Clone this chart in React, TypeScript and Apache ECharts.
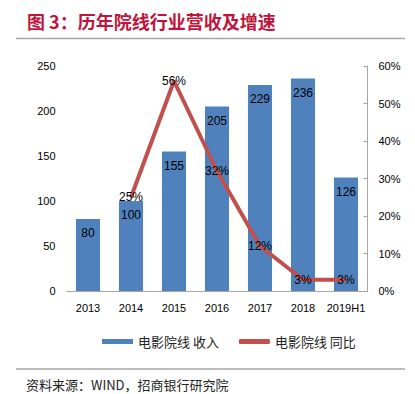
import React, { useEffect, useRef } from "react";
import * as echarts from "echarts";

const categories = ["2013", "2014", "2015", "2016", "2017", "2018", "2019H1"];
const revenue = [80, 100, 155, 205, 229, 236, 126];
const growth: (number | string)[] = ["-", 0.25, 0.56, 0.32, 0.12, 0.03, 0.03];
const growthLabels = ["", "25%", "56%", "32%", "12%", "3%", "3%"];
const leftTicks = { min: 0, max: 250, interval: 50 };
const rightTicks = { min: 0, max: 0.6, interval: 0.1 };
const seriesNames = ["电影院线 收入", "电影院线 同比"];
const titleText = "图 3：历年院线行业营收及增速";
const sourceText = "资料来源：WIND，招商银行研究院";

const latin = "'Liberation Sans', Arial, sans-serif";
const cjk = "'Noto Sans CJK SC', sans-serif";

export default function App() {
  const ref = useRef<HTMLDivElement>(null);
  useEffect(() => {
    if (!ref.current) return;
    const chart = echarts.init(ref.current, null, { renderer: "svg" });
    chart.setOption({
      animation: false,
      backgroundColor: "#ffffff",
      grid: { left: 66.5, right: 47.5, top: 66, bottom: 103, containLabel: false },
      legend: {
        left: 97,
        top: 330,
        itemWidth: 31,
        itemHeight: 5,
        itemGap: 20,
        textStyle: { fontFamily: cjk, fontSize: 13, color: "#222" },
        data: [
          { name: seriesNames[0], icon: "rect" },
          { name: seriesNames[1], icon: "roundRect" },
        ],
      },
      xAxis: {
        type: "category",
        data: categories,
        axisLine: { show: true, lineStyle: { color: "#a6a6a6", width: 1 } },
        axisTick: { show: false },
        axisLabel: { interval: 0, color: "#000", fontFamily: latin, fontSize: 11, margin: 11 },
      },
      yAxis: [
        {
          type: "value",
          ...leftTicks,
          axisLine: { show: false },
          axisTick: { show: false },
          splitLine: { show: false },
          axisLabel: { color: "#000", fontFamily: latin, fontSize: 11, margin: 11 },
        },
        {
          type: "value",
          position: "right",
          ...rightTicks,
          axisLine: { show: true, lineStyle: { color: "#a6a6a6", width: 1 } },
          axisTick: { show: true, inside: true, length: 4, lineStyle: { color: "#a6a6a6" } },
          splitLine: { show: false },
          axisLabel: {
            color: "#000",
            fontFamily: latin,
            fontSize: 11,
            margin: 11,
            formatter: (v: number) => Math.round(v * 100) + "%",
          },
        },
      ],
      series: [
        {
          name: seriesNames[0],
          type: "bar",
          data: revenue,
          barCategoryGap: "44%",
          itemStyle: { color: "#4f81bd" },
          label: {
            show: true,
            position: "insideTop",
            distance: 8,
            color: "#000",
            fontFamily: latin,
            fontSize: 12,
          },
        },
        {
          name: seriesNames[1],
          type: "line",
          yAxisIndex: 1,
          data: growth,
          symbol: "circle",
          symbolSize: 1,
          showSymbol: true,
          lineStyle: { color: "#c0504d", width: 4 },
          itemStyle: { color: "#c0504d" },
          label: {
            show: true,
            position: "inside",
            color: "#000",
            fontFamily: latin,
            fontSize: 12,
            formatter: (p: any) => growthLabels[p.dataIndex],
          },
        },
      ],
      graphic: [
        {
          type: "text",
          left: 27,
          top: 12,
          style: {
            text: titleText,
            fill: "#c0143c",
            font: "bold 18px 'Noto Sans CJK SC', serif",
          },
        },
        {
          type: "line",
          shape: { x1: 16, y1: 38.5, x2: 405, y2: 38.5 },
          style: { stroke: "#a6a6a6", lineWidth: 1.5 },
        },
        {
          type: "line",
          shape: { x1: 16, y1: 369, x2: 405, y2: 369 },
          style: { stroke: "#a6a6a6", lineWidth: 1.5 },
        },
        {
          type: "text",
          x: 26,
          y: 384,
          style: {
            text: sourceText,
            fill: "#222",
            verticalAlign: "middle",
            font: "13px 'Noto Sans CJK SC', serif",
          },
        },
      ],
    });
    return () => chart.dispose();
  }, []);
  return (
    <div
      ref={ref}
      style={{ position: "fixed", left: 0, top: 0, width: 415, height: 394, background: "#fff" }}
    />
  );
}
